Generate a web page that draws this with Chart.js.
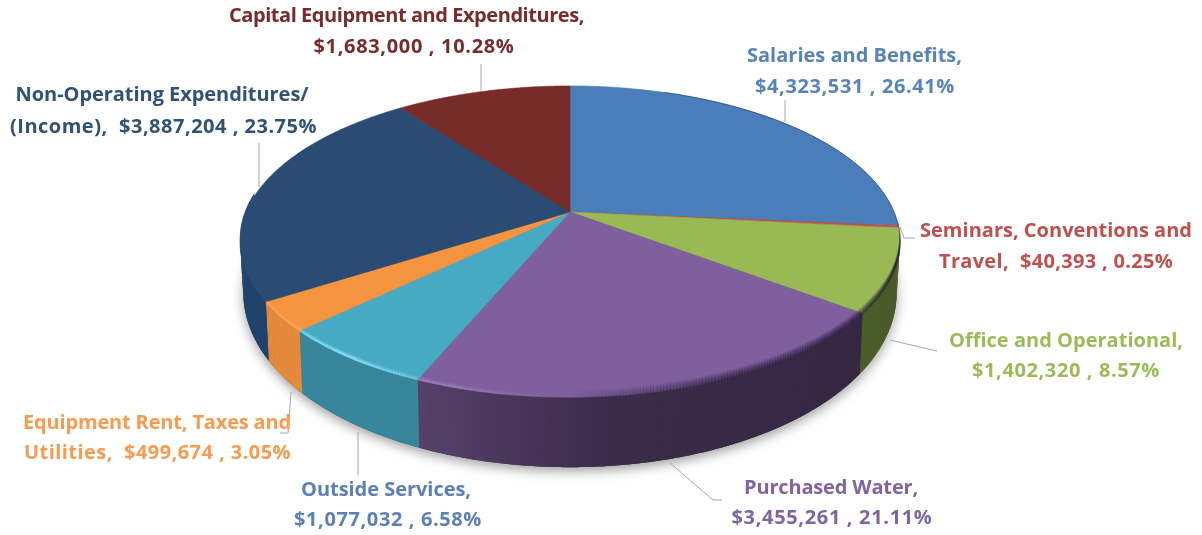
<!DOCTYPE html>
<html>
<head>
<meta charset="utf-8">
<title>Expenditures by category</title>
<script src="https://cdn.jsdelivr.net/npm/chart.js@4/dist/chart.umd.min.js"></script>
<style>
  html, body { margin: 0; padding: 0; background: #fff; }
  #wrap { position: relative; width: 1202px; height: 535px; }
</style>
</head>
<body>
<div id="wrap"><canvas id="pie" width="1202" height="535"></canvas></div>
<script>
// Expense categories, clockwise from twelve o'clock
const categories = [
  "Salaries and Benefits",
  "Seminars, Conventions and Travel",
  "Office and Operational",
  "Purchased Water",
  "Outside Services",
  "Equipment Rent, Taxes and Utilities",
  "Non-Operating Expenditures/(Income)",
  "Capital Equipment and Expenditures"
];
const amounts = [4323531, 40393, 1402320, 3455261, 1077032, 499674, 3887204, 1683000];
const percents = ["26.41%", "0.25%", "8.57%", "21.11%", "6.58%", "3.05%", "23.75%", "10.28%"];
const sliceColors = ["#4a7ebb", "#c0504d", "#98b954", "#7f5f9e", "#46aac4", "#f69440", "#2a4c74", "#772c2a"];
const labelColors = ["#5684ba", "#c0504d", "#9bbb59", "#8064a2", "#5b80b8", "#f79b50", "#2f5277", "#772c2a"];
// "{v}" stands for the formatted amount and share of the slice
const labelLines = [
  ["Salaries and Benefits,", "{v}"],
  ["Seminars, Conventions and", "Travel,  {v}"],
  ["Office and Operational,", "{v}"],
  ["Purchased Water,", "{v}"],
  ["Outside Services,", "{v}"],
  ["Equipment Rent, Taxes and", "Utilities,  {v}"],
  ["Non-Operating Expenditures/", "(Income),  {v}"],
  ["Capital Equipment and Expenditures,", "{v}"]
];

// Label anchors [centre x, middle y, line width] for each of the two lines
const labelAnchors = [
  [[854.5, 56, 215], [855, 87, 200]],
  [[1056, 231, 272], [1056, 262, 234]],
  [[1066, 341, 234], [1066, 371, 188]],
  [[831, 488, 174], [832, 518, 201]],
  [[386, 490, 170], [388, 520, 188]],
  [[157, 423, 268], [157.5, 453, 267]],
  [[162, 95, 293], [163.5, 127, 307]],
  [[406.5, 16, 355], [414, 47, 201]]
];
// Leader polylines from label to slice
const leaders = [
  [[785, 100], [785, 122]],
  [[900, 227], [904, 238], [915, 238]],
  [[890, 340], [937, 351]],
  [[670, 463], [713, 500], [722, 500]],
  [[358, 432], [358, 475]],
  [[291, 392], [288, 433], [280, 433]],
  [[259, 143], [259, 187]],
  [[481, 64], [481, 92]]
];

// Perspective disc: centre of the pie, half-width and half-height factors, tilt
const disc = { cx: 570, cy: 212, a: 324, b: 150, k: 0.19 };

function project(theta, r) {
  const u = r * Math.sin(theta), v = -r * Math.cos(theta), w = 1 - disc.k * v;
  return { x: disc.cx + disc.a * u / w, y: disc.cy + disc.b * v / w, v: v };
}
function projectBottom(theta) {
  const p = project(theta, 1);
  return { x: disc.cx + (p.x - disc.cx) * 0.99, y: p.y + 46 + 24 * p.v };
}
function rgb(hex) {
  return [1, 3, 5].map(i => parseInt(hex.substr(i, 2), 16));
}
function scaled(c, f) {
  return "rgb(" + c.map(n => Math.round(Math.min(255, n * f))).join(",") + ")";
}
// Side wall colour by slice; the long purple wall fades from left to right
function wallColor(i, t) {
  if (i === 6) return "#1e4272";
  const flat = [.5, .5, .5, null, .79, .93, .8, .7][i];
  const c = rgb(sliceColors[i]);
  if (flat !== null) return scaled(c, flat);
  if (t < .55) return scaled(c, .68 + (.47 - .68) * (t - .27) / .28);
  return scaled(c, .47 + (.42 - .47) * (t - .55) / .38);
}
const STEP = Math.PI / 360;

const tiltedPie = {
  id: "tiltedPie",
  beforeDatasetsDraw(chart) {
    const ctx = chart.ctx;
    const arcs = chart.getDatasetMeta(0).data;
    // Angles from the pie controller, measured from twelve o'clock
    const spans = arcs.map(a => [a.startAngle + Math.PI / 2, a.endAngle + Math.PI / 2]);

    // Soft drop shadow under the disc
    ctx.save();
    ctx.shadowColor = "rgba(0,0,0,.38)";
    ctx.shadowBlur = 12;
    ctx.shadowOffsetY = 4;
    ctx.fillStyle = "#40502a";
    ctx.beginPath();
    for (let th = 0; th < Math.PI * 2; th += STEP) {
      const p = projectBottom(th);
      ctx.lineTo(p.x, p.y);
    }
    ctx.closePath();
    ctx.fill();
    ctx.restore();

    // Side walls, one thin quad at a time so the shading follows x
    spans.forEach((s, i) => {
      if (s[1] < Math.PI * 0.53) return;
      for (let th = s[0]; th < s[1]; th += STEP) {
        const e = Math.min(th + STEP * 1.4, s[1]);
        const p0 = project(th, 1), p1 = project(e, 1);
        if (p0.v < -0.1) continue;
        const b0 = projectBottom(th), b1 = projectBottom(e);
        ctx.fillStyle = wallColor(i, (p0.x - 240) / 660);
        ctx.beginPath();
        ctx.moveTo(p0.x, p0.y - 3);
        ctx.lineTo(p1.x, p1.y - 3);
        ctx.lineTo(b1.x, b1.y);
        ctx.lineTo(b0.x, b0.y);
        ctx.closePath();
        ctx.fill();
      }
    });

    // Top faces
    spans.forEach((s, i) => {
      ctx.fillStyle = sliceColors[i];
      ctx.strokeStyle = sliceColors[i];
      ctx.lineWidth = 0.6;
      ctx.beginPath();
      ctx.moveTo(disc.cx, disc.cy);
      for (let th = s[0]; th < s[1]; th += STEP) {
        const p = project(th, 1);
        ctx.lineTo(p.x, p.y);
      }
      const end = project(s[1], 1);
      ctx.lineTo(end.x, end.y);
      ctx.closePath();
      ctx.fill();
      ctx.stroke();
    });

    // Rounded bevel along the front rim: bright on the left, dark on the right.
    // Each pass sits a little further up the face and gets fainter.
    ctx.lineCap = "butt";
    for (let d = 0; d < 8; d++) {
      spans.forEach((s, i) => {
        if (i === 6) return;
        for (let th = s[0]; th < s[1]; th += STEP) {
          const e = Math.min(th + STEP * 1.2, s[1]);
          const p0 = project(th, 1), p1 = project(e, 1);
          if (p0.v < 0.1) continue;
          const t = (p0.x - 240) / 660;
          const fade = Math.min(1, (p0.v - 0.1) / 0.25);
          let style;
          if (t < 0.34) {
            if (d > 3) continue;
            const glow = Math.max(0, 1 - Math.abs(t - .16) / .2);
            style = "rgba(150,235,255," + (glow * fade * (0.75 - d * .2)) + ")";
            if (i === 5) style = "rgba(255,215,160," + (glow * fade * (0.35 - d * .09)) + ")";
            if (i === 3) style = "rgba(190,160,225," + (fade * (0.35 - d * .09)) + ")";
          } else if (t < 0.5) {
            if (d > 3) continue;
            style = "rgba(190,160,225," + (fade * (0.5 - t) / .16 * (0.3 - d * .08)) + ")";
          } else {
            const amt = Math.min(1, (t - .5) / .25);
            style = "rgba(35,25,50," + (amt * fade * (0.55 - d * .068)) + ")";
          }
          ctx.strokeStyle = style;
          ctx.lineWidth = 1.4;
          ctx.beginPath();
          ctx.moveTo(p0.x, p0.y - d);
          ctx.lineTo(p1.x, p1.y - d);
          ctx.stroke();
        }
      });
    }

    // Thin dark edge on the far right of the back rim
    ctx.strokeStyle = "rgba(25,40,60,.55)";
    ctx.lineWidth = 1;
    ctx.beginPath();
    for (let th = 0.35; th < spans[0][1]; th += STEP) {
      const p = project(th, 1);
      ctx.lineTo(p.x, p.y);
    }
    ctx.stroke();
    return false;
  },
  afterDraw(chart) {
    const ctx = chart.ctx;
    ctx.save();
    ctx.strokeStyle = "#a6a6a6";
    ctx.lineWidth = 1;
    leaders.forEach(line => {
      ctx.beginPath();
      line.forEach(p => ctx.lineTo(p[0], p[1]));
      ctx.stroke();
    });
    ctx.font = '700 20px "Open Sans"';
    ctx.textAlign = "center";
    ctx.textBaseline = "middle";
    labelLines.forEach((lines, i) => {
      const value = "$" + amounts[i].toLocaleString("en-US") + " , " + percents[i];
      ctx.fillStyle = labelColors[i];
      lines.forEach((line, j) => {
        const at = labelAnchors[i][j];
        const text = line.replace("{v}", value);
        // Tracking is adjusted so the line spans its set width
        ctx.letterSpacing = "0px";
        const gap = (at[2] - ctx.measureText(text).width) / text.length;
        ctx.letterSpacing = gap.toFixed(3) + "px";
        ctx.fillText(text, at[0], at[1]);
      });
    });
    ctx.restore();
  }
};

new Chart(document.getElementById("pie"), {
  type: "pie",
  data: {
    labels: categories,
    datasets: [{ data: amounts, backgroundColor: sliceColors, borderWidth: 0 }]
  },
  options: {
    responsive: false,
    animation: false,
    rotation: 0,
    plugins: { legend: { display: false }, tooltip: { enabled: false } }
  },
  plugins: [tiltedPie]
});
</script>
</body>
</html>
